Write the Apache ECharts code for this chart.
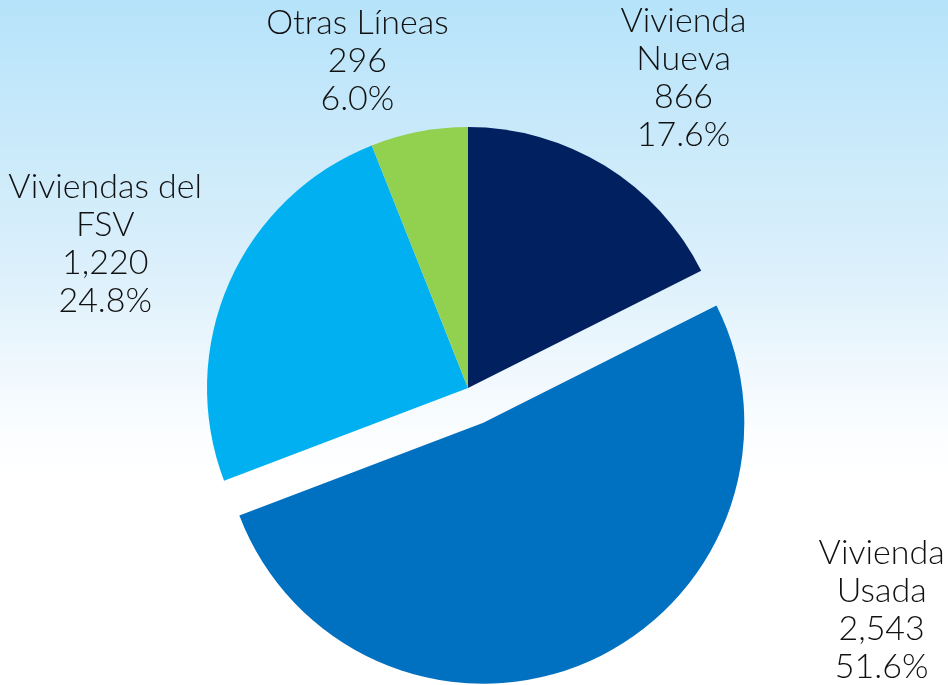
<!DOCTYPE html>
<html>
<head>
<meta charset="utf-8">
<script src="https://cdn.jsdelivr.net/npm/echarts@6/dist/echarts.min.js"></script>
<style>
html,body{margin:0;padding:0;width:948px;height:685px;overflow:hidden;}
#chart{width:948px;height:685px;}
</style>
</head>
<body>
<div id="chart"></div>
<script>
const categories = ['Vivienda\nNueva', 'Vivienda\nUsada', 'Viviendas del\nFSV', 'Otras Líneas'];
const values = [866, 2543, 1220, 296];
const colors = ['#002060', '#0070C0', '#00B0F0', '#92D050'];
const exploded = [false, true, false, false];

// label centre points (fraction of chart width / height)
const labelAnchors = [[0.721, 0.114], [0.930, 0.890], [0.111, 0.356], [0.377, 0.089]];
const SEL_OFFSET = 38;

const total = values.reduce((a, b) => a + b, 0);
// mid angle (clockwise from 12 o'clock) of each slice, used to undo the selected shift on labels
const midAngles = [];
{ let acc = 0; values.forEach(v => { midAngles.push((acc + v / 2) / total * 2 * Math.PI); acc += v; }); }

const chart = echarts.init(document.getElementById('chart'));
chart.setOption({
  backgroundColor: {
    type: 'linear', x: 0, y: 0, x2: 0, y2: 1,
    colorStops: [
      { offset: 0, color: '#b6e3fa' },
      { offset: 0.22, color: '#cbeafa' },
      { offset: 0.4, color: '#dcf0fb' },
      { offset: 0.52, color: '#edf7fd' },
      { offset: 0.63, color: '#fbfdff' },
      { offset: 0.7, color: '#ffffff' },
      { offset: 1, color: '#ffffff' }
    ]
  },
  animation: false,
  series: [{
    type: 'pie',
    center: [468, 388],
    radius: 261,
    startAngle: 90,
    clockwise: true,
    selectedMode: 'single',
    selectedOffset: SEL_OFFSET,
    avoidLabelOverlap: false,
    data: categories.map((c, i) => ({
      name: c, value: values[i], selected: exploded[i],
      itemStyle: { color: colors[i] }
    })),
    itemStyle: { borderWidth: 0 },
    emphasis: { disabled: true },
    label: {
      show: true,
      position: 'outside',
      fontFamily: 'Lato',
      fontWeight: 300,
      fontSize: 34,
      lineHeight: 38,
      color: '#111111',
      formatter: p => {
        const lines = p.name.split('\n').concat([
          p.value.toLocaleString('en-US'),
          (p.value / total * 100).toFixed(1) + '%'
        ]);
        return lines.map(l => '{a|' + l + '}').join('\n');
      },
      rich: {
        a: { width: 230, align: 'center', fontFamily: 'Lato', fontWeight: 300, fontSize: 34, lineHeight: 38, color: '#111111' }
      }
    },
    labelLine: { show: false },
    labelLayout: function (params) {
      const i = params.dataIndex;
      const a = labelAnchors[i];
      const r = params.labelRect;
      let sx = 0, sy = 0;
      if (exploded[i]) {
        sx = Math.sin(midAngles[i]) * SEL_OFFSET;
        sy = -Math.cos(midAngles[i]) * SEL_OFFSET;
      }
      return {
        dx: a[0] * chart.getWidth() - (r.x + r.width / 2) - sx,
        dy: a[1] * chart.getHeight() - (r.y + r.height / 2) - sy,
        hideOverlap: false
      };
    }
  }]
});
</script>
</body>
</html>
